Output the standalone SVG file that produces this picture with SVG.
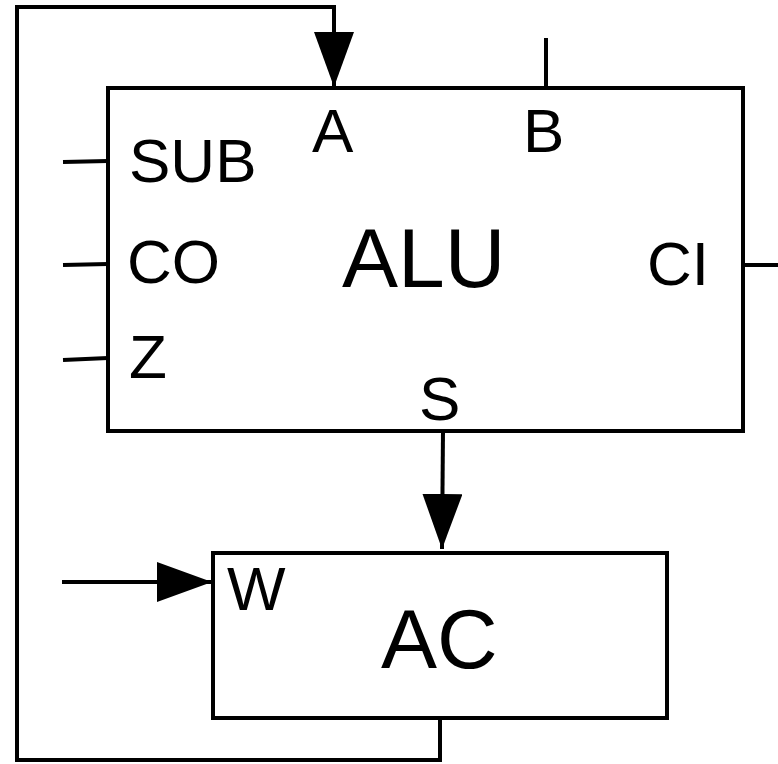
<svg xmlns="http://www.w3.org/2000/svg" width="778" height="764" viewBox="0 0 778 764">
<style>
.box{fill:#fff;stroke:#000;stroke-width:4}
.ln{fill:none;stroke:#000;stroke-width:4;stroke-linecap:butt}
.t{font-family:"Liberation Sans",Arial,sans-serif;font-size:62px;fill:#000}
.big{font-size:84px}
</style>
<defs>
<marker id="ah" markerUnits="userSpaceOnUse" markerWidth="56" markerHeight="40" refX="55" refY="20" orient="auto">
<path d="M0,0 L55,20 L0,40 z" fill="#000"/>
</marker>
</defs>
<g id="alu">
<rect class="box" x="108" y="88" width="635" height="343"/>
<text class="t" x="129" y="182">SUB</text>
<text class="t" x="127" y="283">CO</text>
<text class="t" x="129" y="378">Z</text>
<text class="t" x="312" y="152">A</text>
<text class="t" x="523" y="152">B</text>
<text class="t" x="647" y="285">CI</text>
<text class="t big" x="342" y="287">ALU</text>
<text class="t" x="419" y="420">S</text>
</g>
<g id="ac">
<rect class="box" x="213" y="553" width="454" height="165"/>
<text class="t" x="227" y="610">W</text>
<text class="t big" x="381" y="668">AC</text>
</g>
<g id="connectors">
<path class="ln" d="M440,718 L440,760 L17,760 L17,7 L334,7 L334,87" marker-end="url(#ah)"/>
<path class="ln" d="M443,431 L442,549" marker-end="url(#ah)"/>
<path class="ln" d="M62,582 L212,582" marker-end="url(#ah)" stroke-linecap="round"/>
<path class="ln" d="M546,38 L546,88"/>
<path class="ln" d="M743,265 L778,265"/>
<path class="ln" d="M63,162 L108,161"/>
<path class="ln" d="M63,265 L108,264"/>
<path class="ln" d="M63,360 L108,358"/>
</g>
</svg>
